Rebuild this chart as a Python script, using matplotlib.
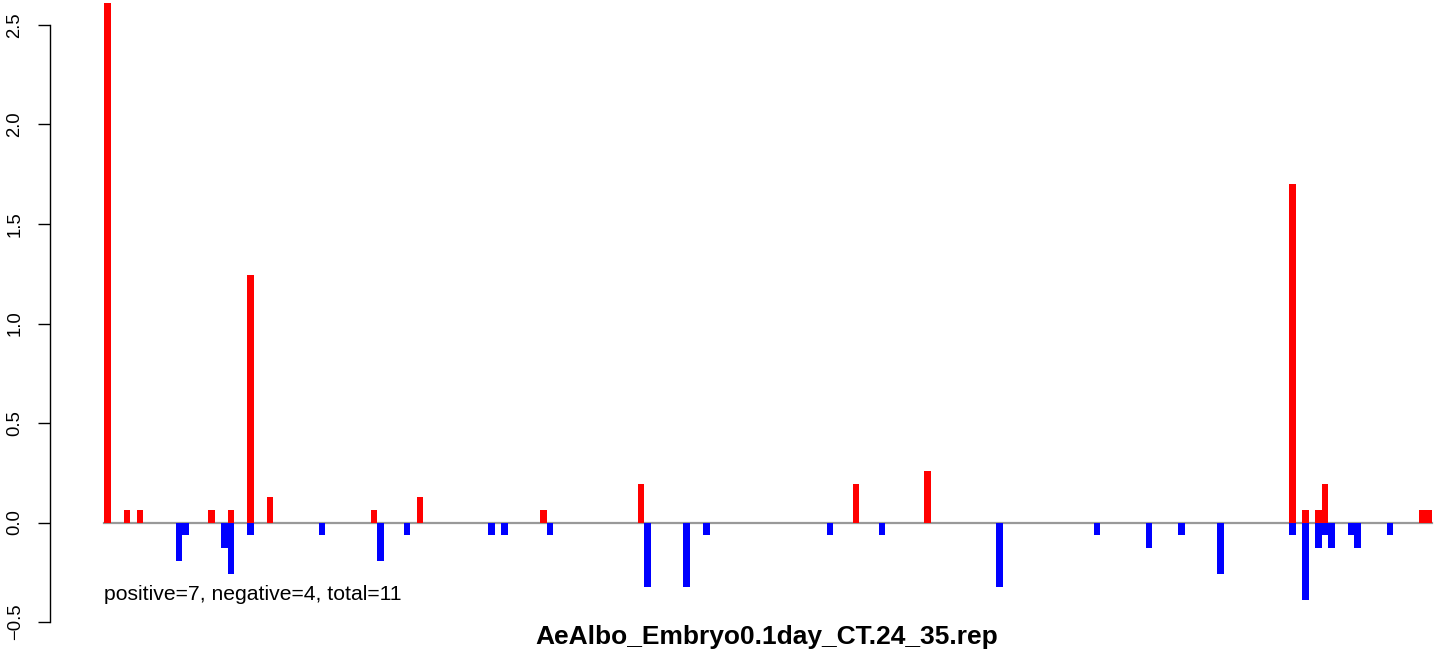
import matplotlib
matplotlib.use("Agg")
import matplotlib.pyplot as plt

plt.rcParams['font.family'] = ['Liberation Sans', 'DejaVu Sans']

# bins along the region
n_bins = 204

# positive (red) bars: bin index and value
pos_idx = [0, 3, 5, 16, 19, 22, 25, 41, 48, 67, 82, 115, 126, 182, 184, 186, 187, 202, 203]
pos_val = [2.61, 0.065, 0.065, 0.065, 0.065, 1.245, 0.13, 0.065, 0.13, 0.065, 0.195,
           0.195, 0.26, 1.70, 0.065, 0.065, 0.195, 0.065, 0.065]

# negative (blue) bars
neg_idx = [11, 12, 18, 19, 22, 33, 42, 46, 59, 61, 68, 83, 89, 92, 111, 119, 137,
           152, 160, 165, 171, 182, 184, 186, 187, 188, 191, 192, 197]
neg_val = [-0.195, -0.065, -0.13, -0.26, -0.065, -0.065, -0.195, -0.065, -0.065, -0.065,
           -0.065, -0.325, -0.325, -0.065, -0.065, -0.065, -0.325, -0.065, -0.13, -0.065,
           -0.26, -0.065, -0.39, -0.13, -0.065, -0.13, -0.065, -0.13, -0.065]

title = 'AeAlbo_Embryo0.1day_CT.24_35.rep'
note = 'positive=7, negative=4, total=11'

W, H = 1441, 650
fig = plt.figure(figsize=(W / 100, H / 100), dpi=100)

# axes placed in pixel terms
left_px, right_px = 50, 1441
top_px, bot_px = 0, 630
ax = fig.add_axes([left_px / W, 1 - bot_px / H, (right_px - left_px) / W, (bot_px - top_px) / H])

bin_px = 6.511
x0 = -(104 - left_px) / bin_px
ax.set_xlim(x0, x0 + (right_px - left_px) / bin_px)
ypx = 199.0
ax.set_ylim(-(bot_px - 522.5) / ypx, (522.5 - top_px) / ypx)

ax.bar(pos_idx, pos_val, width=1.0, align='edge', color='#ff0000', linewidth=0)
ax.bar(neg_idx, neg_val, width=1.0, align='edge', color='#0000ff', linewidth=0)
ax.plot([0, n_bins], [0, 0], color='#999999', lw=1.6, zorder=0.5)

for s in ['top', 'right', 'bottom']:
    ax.spines[s].set_visible(False)
ax.spines['left'].set_bounds(-0.5, 2.5)
ax.spines['left'].set_linewidth(1.0)
ax.set_yticks([-0.5, 0.0, 0.5, 1.0, 1.5, 2.0, 2.5])
ax.set_yticklabels(['\u22120.5', '0.0', '0.5', '1.0', '1.5', '2.0', '2.5'],
                   rotation=90, va='center', fontsize=13.3)
ax.tick_params(axis='y', length=8.5, width=1.0, pad=10.5)
ax.set_xticks([])

ax.text(0, -0.36, note, fontsize=15.2, ha='left', va='center')
fig.text(767 / W, 1 - 637 / H, title, fontsize=19, fontweight='bold', ha='center', va='center')

fig.savefig('out.png', dpi=100)
